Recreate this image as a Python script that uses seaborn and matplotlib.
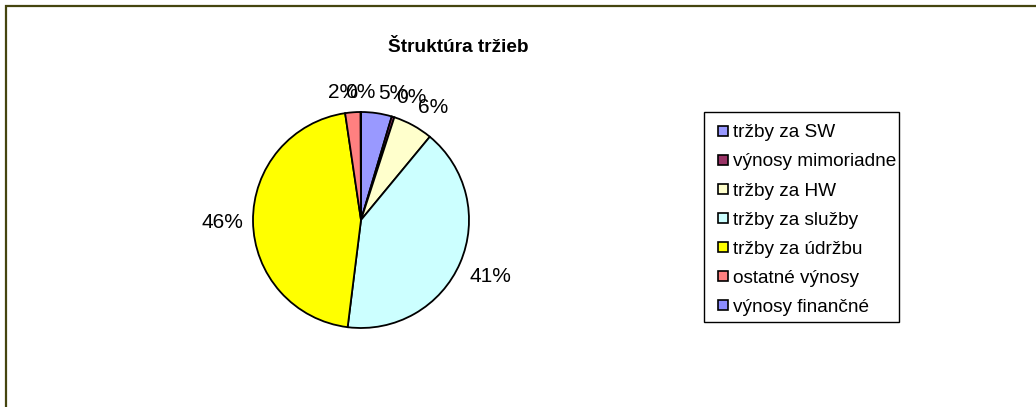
import numpy as np
import matplotlib
matplotlib.use("Agg")
import matplotlib.pyplot as plt
import seaborn as sns
from matplotlib.patches import Rectangle
from matplotlib.lines import Line2D

categories = ["tržby za SW", "výnosy mimoriadne", "tržby za HW", "tržby za služby",
              "tržby za údržbu", "ostatné výnosy", "výnosy finančné"]
values = [4.6, 0.4, 6.0, 41.0, 45.7, 2.3, 0.05]
colors = ["#9999FF", "#993366", "#FFFFCC", "#CCFFFF", "#FFFF00", "#FF8080", "#8C8CFF"]
title = "Štruktúra tržieb"

sns.set_theme(style="white")
plt.rcParams["font.family"] = ["Liberation Sans", "DejaVu Sans"]
plt.rcParams["text.color"] = "black"

W, H = 1036, 407
fig = plt.figure(figsize=(W / 100, H / 100), dpi=100)
fig.patch.set_facecolor("white")

# outer chart frame (only top and left visible in the crop)
fig.patches.append(Rectangle((6 / W, -0.1), 1.2, 1 - 6 / H + 0.1, transform=fig.transFigure,
                             fill=False, edgecolor="#45450F", linewidth=1.6))

cx, cy, r = 361, 220, 108
ax = fig.add_axes([(cx - r) / W, (H - cy - r) / H, 2 * r / W, 2 * r / H])
wedges, _ = ax.pie(values, colors=colors, startangle=90, counterclock=False,
                   radius=1, wedgeprops=dict(edgecolor="black", linewidth=1.3))
ax.set_xlim(-1, 1)
ax.set_ylim(-1, 1)
ax.set_aspect("equal")
ax.axis("off")

fig.text(458 / W, 1 - 52.5 / H, title, ha="center", va="baseline",
         fontsize=13.7, fontweight="bold", color="black")

# percentage labels positioned just outside the pie (Excel style)
total = sum(values)
fig.canvas.draw()
renderer = fig.canvas.get_renderer()
cum = 0.0
for v in values:
    mid = (cum + v / 2) / total * 2 * np.pi
    cum += v
    ux, uy = np.sin(mid), np.cos(mid)
    t = ax.text(0, 0, f"{v / total * 100:.0f}%", fontsize=15, ha="center", va="center",
                color="black")
    bb = t.get_window_extent(renderer)
    w_px, h_px = bb.width, bb.height
    gap = 10
    dx_px = (r + gap) * ux + w_px / 2 * np.clip(ux * 8, -1, 1)
    dy_px = (r + gap) * uy + h_px / 2 * np.clip(uy * 8, -1, 1)
    t.set_position((dx_px / r, dy_px / r))

# legend box
fig.patches.append(Rectangle((704 / W, 1 - 322 / H), 195 / W, 210 / H,
                             transform=fig.transFigure, facecolor="white",
                             edgecolor="black", linewidth=1.0, zorder=0))
fs = 13.7
em = fs * 100 / 72
handles = [Line2D([], [], linestyle="none", marker="s", markersize=7.2,
                  markerfacecolor=c, markeredgecolor="black", markeredgewidth=1.2)
           for c in colors]
leg = fig.legend(handles, categories, loc="upper left",
                 bbox_to_anchor=(716 / W, 1 - 124 / H), bbox_transform=fig.transFigure,
                 fontsize=fs, frameon=False, handlelength=14 / em,
                 handletextpad=3 / em, labelspacing=0.62, borderpad=0, borderaxespad=0)
for txt in leg.get_texts():
    txt.set_color("black")

fig.savefig("out.png", dpi=100, facecolor="white")
